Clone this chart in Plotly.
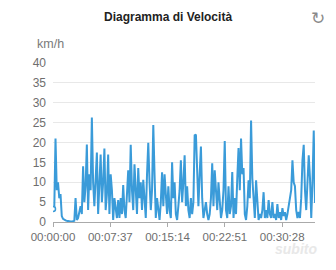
import plotly.graph_objects as go

# time step in seconds between samples
step_s = 10
speed_kmh = [
    3.3, 3.0, 21, 8, 10, 6, 7, 1.5, 0.8, 0.5,
    0.4, 0.3, 0.2, 0.2, 0.1, 0.1, 0.2, 0.3, 6, 0.5,
    1, 3, 4, 2, 14, 5, 9, 19.5, 3, 12,
    8, 26.3, 10, 4, 12, 17.5, 2, 9, 17, 5,
    10, 18.5, 3, 7, 17, 2, 12, 8, 0.5, 6,
    4, 1, 5.5, 1, 6, 2, 9.3, 3, 1, 8,
    13, 5, 19.4, 8, 3, 14.5, 7, 2, 13.6, 6,
    10, 3, 10.6, 4, 1, 12, 19.9, 10, 3, 8,
    24.4, 12, 1, 6, 3, 0.5, 5, 12.5, 4, 12,
    7, 2, 9, 3, 1, 15, 6, 10, 2, 0.5,
    4, 8, 15.5, 5, 10, 16.8, 4, 9, 3, 1,
    6, 2, 5, 21.8, 22, 10, 4, 12, 19, 6,
    1, 3, 5, 2, 0.5, 2, 6, 14.8, 4, 13,
    8, 3, 10, 4, 1, 3, 8, 20.4, 3, 1,
    9, 2, 4, 12.6, 1, 6, 2, 11, 18.6, 8,
    21, 12, 13.6, 2, 0.5, 4, 10.5, 6, 25.5, 11,
    6, 1, 10.5, 4, 0.5, 2, 1, 3, 7.5, 1,
    3, 1, 5.5, 2, 1, 5, 1, 2, 0.5, 4.5,
    1, 2.5, 0.5, 3.5, 1.5, 2.5, 0.5, 2, 4, 6,
    8, 15.5, 10, 9, 3, 1, 2.5, 1, 6, 15.5,
    19.4, 8, 3, 10, 16.8, 11, 1, 10, 23, 4.8,
]
time_s = [i * step_s for i in range(len(speed_kmh))]

tick_seconds = [0, 457, 914, 1371, 1828]
tick_labels = ["00:00:00", "00:07:37", "00:15:14", "00:22:51", "00:30:28"]
y_ticks = [0, 5, 10, 15, 20, 25, 30, 35, 40]

blue = "#3a9bd9"
fig = go.Figure()
fig.add_trace(go.Scatter(
    x=time_s, y=speed_kmh, mode="lines",
    line=dict(color=blue, width=2), hoverinfo="skip", showlegend=False,
))
fig.add_trace(go.Scatter(
    x=time_s[:1], y=speed_kmh[:1], mode="markers",
    marker=dict(size=5, color="white", line=dict(color=blue, width=1.5)),
    showlegend=False, hoverinfo="skip",
))

font = "Liberation Sans, Arial, Helvetica, sans-serif"
L, R, T, B = 53, 21, 63, 48
fig.update_layout(
    width=336, height=270,
    margin=dict(l=L, r=R, t=T, b=B),
    paper_bgcolor="white", plot_bgcolor="white",
    font=dict(family=font, size=12, color="#6e6e6e"),
    xaxis=dict(
        range=[0, time_s[-1]], tickvals=tick_seconds, ticktext=tick_labels,
        showgrid=False, zeroline=False, showline=True, linecolor="#aaaaaa",
        linewidth=1, ticks="outside", ticklen=4, tickcolor="#aaaaaa",
        tickfont=dict(size=11.5, color="#6e6e6e"),
    ),
    yaxis=dict(
        range=[0, 40], tickvals=y_ticks, showgrid=True, gridcolor="#e8e8e8",
        gridwidth=1, zeroline=False, showline=False, ticks="",
        ticklabelstandoff=6,
        tickfont=dict(size=12, color="#6e6e6e"),
    ),
)

pw, ph = 336 - L - R, 270 - T - B


def ann(text, px, py, size, color, family=font):
    # px, py: pixel centre from top-left of the page
    return dict(text=text, xref="paper", yref="paper",
                x=(px - L) / pw, y=(270 - py - B) / ph,
                xanchor="center", yanchor="middle", showarrow=False,
                font=dict(size=size, color=color, family=family))


fig.update_layout(annotations=[
    ann("<b>Diagramma di Velocità</b>", 168, 17, 12, "#222222"),
    ann("km/h", 50, 44, 12.5, "#7a7a7a"),
    ann("↻", 318, 18, 17, "#8a8a8a", "DejaVu Sans"),
    ann("<i><b>subito</b></i>", 296, 249, 14, "#e8e8e8"),
])
fig.write_html("out.html")
